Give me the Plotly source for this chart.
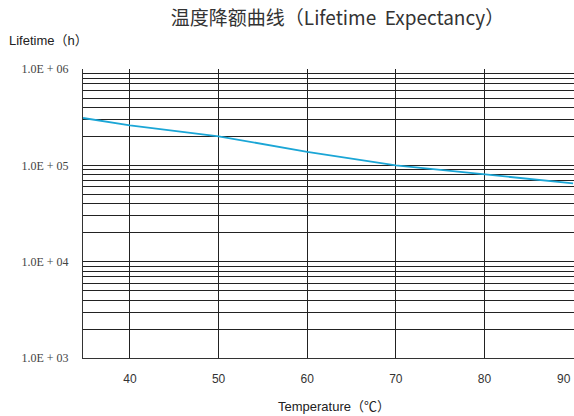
import plotly.graph_objects as go

# Data
temperature = [34.7, 40, 50, 60, 70, 80, 90]
lifetime_h = [310000, 260000, 200000, 138000, 100000, 80000, 65000]

x_ticks = [40, 50, 60, 70, 80, 90]
decades = [1e3, 1e4, 1e5, 1e6]
decade_labels = ["1.0E + 03", "1.0E + 04", "1.0E + 05", "1.0E + 06"]
mantissas = [2, 3, 4, 5, 6, 7, 8, 9]

# build log grid values (decades + minor lines)
y_vals, y_text = [], []
for d, lab in zip(decades, decade_labels):
    y_vals.append(d)
    y_text.append(lab)
    if d < 1e6:
        for m in mantissas:
            y_vals.append(d * m)
            y_text.append("")

# last x label sits at the right edge: drawn as a right-anchored annotation
x_text = [str(t) for t in x_ticks]
last_label = x_text[-1]
x_text[-1] = ""

fig = go.Figure()
fig.add_trace(go.Scatter(
    x=temperature, y=lifetime_h, mode="lines",
    line=dict(color="#1ba6d6", width=1.8),
    hoverinfo="skip", showlegend=False,
))

tick_font = dict(family="Liberation Sans", size=12, color="#333333")

fig.update_layout(
    width=574, height=416, autosize=False,
    margin=dict(l=83, r=0, t=69, b=58, autoexpand=False),
    paper_bgcolor="white", plot_bgcolor="white",
    title=dict(
        text="温度降额曲线（Lifetime  Expectancy）",
        x=0.588, xanchor="center", y=0.955, yanchor="middle",
        font=dict(family="Noto Sans CJK SC", size=19, color="#333333"),
    ),
    xaxis=dict(
        type="linear", range=[34.7, 90.1], automargin=False,
        tickvals=x_ticks, ticktext=x_text,
        showgrid=True, gridcolor="#222222", gridwidth=1,
        zeroline=False, showline=True, linecolor="#333333", linewidth=1, mirror=False,
        ticks="", ticklabelstandoff=10,
        tickfont=tick_font,
    ),
    yaxis=dict(
        type="log", range=[3, 6], automargin=False,
        tickvals=y_vals, ticktext=y_text,
        showgrid=True, gridcolor="#222222", gridwidth=1,
        zeroline=False, showline=True, linecolor="#333333", linewidth=1, mirror=False,
        ticks="", ticklabelstandoff=11,
        tickfont=dict(family="Liberation Serif", size=12, color="#444444"),
    ),
    annotations=[
        dict(
            text=last_label, xref="x", yref="paper",
            x=x_ticks[-1], y=0, xanchor="right", yanchor="top", yshift=-12,
            showarrow=False, font=tick_font,
        ),
        dict(
            text="Lifetime（h）", xref="paper", yref="paper",
            x=-0.155, y=1.1, xanchor="left", yanchor="middle", showarrow=False,
            font=dict(family="Liberation Sans, Noto Sans CJK SC", size=13, color="#222222"),
        ),
        dict(
            text="Temperature（℃）", xref="paper", yref="paper",
            x=0.512, y=-0.168, xanchor="center", yanchor="middle", showarrow=False,
            font=dict(family="Liberation Sans, Noto Sans CJK SC", size=13, color="#222222"),
        ),
    ],
)

fig.write_html(
    "out.html",
    config={"displayModeBar": False},
    post_script="document.body.style.margin='0';document.body.style.overflow='hidden';",
)
